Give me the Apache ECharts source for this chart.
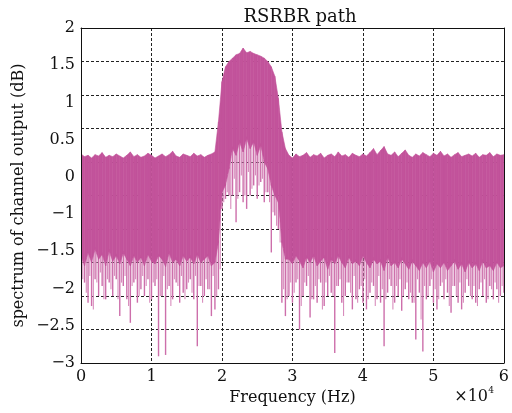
<!DOCTYPE html>
<html><head><meta charset="utf-8">
<script src="https://cdn.jsdelivr.net/npm/echarts@6/dist/echarts.min.js"></script>
<style>html,body{margin:0;padding:0;background:#fff}#c{width:512px;height:413px}</style>
</head><body><div id="c"></div>
<script>
// frequency sample points (x 10^4 Hz)
const freq = [
0.00,0.05,0.10,0.15,0.20,0.25,0.30,0.35,0.40,0.45,
0.50,0.55,0.60,0.65,0.70,0.75,0.80,0.85,0.90,0.95,
1.00,1.05,1.10,1.15,1.20,1.25,1.30,1.35,1.40,1.45,
1.50,1.55,1.60,1.65,1.70,1.75,1.80,1.85,1.90,1.95,
2.00,2.05,2.10,2.15,2.20,2.25,2.30,2.35,2.40,2.45,
2.50,2.55,2.60,2.65,2.70,2.75,2.80,2.85,2.90,2.95,
3.00,3.05,3.10,3.15,3.20,3.25,3.30,3.35,3.40,3.45,
3.50,3.55,3.60,3.65,3.70,3.75,3.80,3.85,3.90,3.95,
4.00,4.05,4.10,4.15,4.20,4.25,4.30,4.35,4.40,4.45,
4.50,4.55,4.60,4.65,4.70,4.75,4.80,4.85,4.90,4.95,
5.00,5.05,5.10,5.15,5.20,5.25,5.30,5.35,5.40,5.45,
5.50,5.55,5.60,5.65,5.70,5.75,5.80,5.85,5.90,5.95,
6.00];
// upper envelope of the spectrum (dB)
const topEnv = [
0.12,0.08,0.10,0.06,0.11,0.09,0.14,0.07,0.10,0.08,
0.12,0.09,0.06,0.10,0.15,0.08,0.11,0.07,0.09,0.13,
0.10,0.06,0.09,0.12,0.08,0.11,0.16,0.09,0.07,0.12,
0.10,0.08,0.13,0.09,0.11,0.07,0.10,0.12,0.15,0.60,
1.20,1.42,1.50,1.55,1.60,1.62,1.70,1.63,1.65,1.62,
1.60,1.58,1.55,1.50,1.42,1.28,0.95,0.45,0.20,0.10,
0.06,0.12,0.08,0.10,0.14,0.07,0.11,0.09,0.13,0.06,
0.10,0.12,0.08,0.15,0.09,0.11,0.07,0.13,0.10,0.08,
0.12,0.09,0.14,0.20,0.11,0.17,0.23,0.12,0.10,0.15,
0.08,0.13,0.18,0.10,0.07,0.12,0.09,0.14,0.11,0.08,
0.13,0.10,0.16,0.09,0.12,0.07,0.11,0.14,0.08,0.10,
0.12,0.09,0.13,0.07,0.11,0.10,0.14,0.08,0.12,0.10,
0.11];
// lower edge of the dense (solid) part (dB)
const coreLow = [
-1.40,-1.55,-1.35,-1.50,-1.30,-1.45,-1.38,-1.55,-1.33,-1.48,
-1.40,-1.52,-1.36,-1.45,-1.55,-1.40,-1.50,-1.42,-1.55,-1.38,
-1.48,-1.52,-1.40,-1.45,-1.56,-1.36,-1.50,-1.45,-1.55,-1.40,
-1.48,-1.42,-1.52,-1.38,-1.50,-1.45,-1.40,-1.55,-1.50,-1.20,
-0.45,-0.35,-0.10,0.20,0.10,0.30,0.15,0.35,0.20,0.30,
0.10,0.25,0.00,-0.10,-0.35,-0.50,-0.60,-1.20,-1.45,-1.45,
-1.52,-1.40,-1.48,-1.58,-1.42,-1.50,-1.40,-1.55,-1.48,-1.42,
-1.60,-1.45,-1.52,-1.40,-1.50,-1.58,-1.42,-1.52,-1.48,-1.55,
-1.40,-1.50,-1.58,-1.45,-1.52,-1.48,-1.62,-1.42,-1.55,-1.50,
-1.58,-1.45,-1.52,-1.60,-1.48,-1.55,-1.62,-1.50,-1.58,-1.48,
-1.64,-1.52,-1.58,-1.50,-1.62,-1.55,-1.48,-1.60,-1.52,-1.64,
-1.50,-1.58,-1.52,-1.62,-1.48,-1.58,-1.55,-1.62,-1.50,-1.58,
-1.55];
// deepest downward spike at each sample point (dB)
const spikeLow = [
-2.05,-1.80,-2.10,-2.15,-1.75,-2.00,-1.85,-2.05,-1.80,-2.00,
-1.75,-2.30,-1.85,-2.05,-2.40,-1.80,-2.10,-1.90,-2.00,-1.75,
-2.05,-1.85,-2.90,-2.00,-2.88,-1.85,-2.05,-1.80,-2.10,-1.95,
-1.90,-1.75,-2.05,-2.75,-1.85,-2.00,-1.90,-2.30,-2.20,-1.90,
-0.70,-0.55,-0.50,-0.50,-0.90,-0.45,-0.60,-0.70,-0.50,-0.35,
-0.55,-0.30,-0.60,-0.45,-1.35,-0.80,-1.00,-2.10,-2.30,-2.00,
-2.10,-1.80,-2.50,-2.00,-1.85,-2.32,-2.05,-2.10,-1.80,-2.15,
-2.00,-1.95,-2.85,-1.85,-2.10,-2.00,-1.80,-2.20,-2.05,-1.90,
-2.10,-2.20,-1.95,-1.85,-2.05,-2.10,-2.75,-1.95,-1.85,-2.10,
-2.00,-2.22,-1.90,-2.05,-2.10,-2.65,-1.95,-2.83,-2.05,-1.85,
-2.10,-2.20,-1.85,-2.05,-1.95,-2.25,-1.85,-2.10,-2.20,-1.95,
-1.85,-2.05,-2.10,-1.90,-2.00,-2.10,-1.85,-2.05,-1.90,-2.00,
-1.95];
// shorter spikes half-way between sample points (dB)
const spikeMid = [
-1.75,-1.95,-1.70,-2.20,-1.80,-1.65,-2.05,-1.75,-1.90,-1.70,
-2.05,-1.80,-1.70,-2.15,-1.85,-1.75,-2.00,-1.70,-1.85,-2.10,
-1.80,-1.75,-2.00,-1.70,-1.90,-2.15,-1.75,-1.85,-1.70,-2.05,
-1.80,-1.95,-1.70,-1.85,-2.10,-1.75,-1.90,-1.70,-2.00,-1.60,
-0.60,-0.45,-0.70,-0.25,-0.55,-0.20,-0.50,-0.15,-0.40,-0.20,
-0.35,-0.25,-0.45,-0.60,-0.75,-0.95,-1.20,-1.90,-2.05,-1.80,
-1.95,-1.75,-2.15,-1.80,-1.70,-2.05,-1.85,-1.75,-2.20,-1.80,
-1.70,-2.00,-1.85,-1.75,-2.30,-1.80,-1.95,-1.70,-2.10,-1.85,
-1.75,-2.05,-1.80,-2.15,-1.70,-1.90,-2.05,-1.75,-2.20,-1.85,
-1.75,-2.00,-1.80,-1.95,-2.10,-1.75,-2.35,-1.85,-2.00,-1.75,
-1.90,-2.05,-1.80,-1.75,-2.15,-1.85,-2.00,-1.80,-2.10,-1.75,
-2.00,-1.85,-2.15,-1.80,-1.75,-2.05,-1.90,-1.80,-2.10,-1.85];
const xTickLabels = ['0','1','2','3','4','5','6'];
const yTickLabels = ['\u22123','\u22122.5','\u22122','\u22121.5','\u22121','0','0.5','1','1.5','2'];

const FONT = 'DejaVu Serif';
const MAG = '#c2539b';
const SPIKE = '#cd6fab';
const SPIKE2 = '#d88dbd';
const chart = echarts.init(document.getElementById('c'));

// band segments: [x, top, low, xNext, topNext, lowNext]
const bandData = [];
const midData = [];
for (let i = 0; i < freq.length - 1; i++) {
  bandData.push([freq[i], topEnv[i], coreLow[i], freq[i+1], topEnv[i+1], coreLow[i+1]]);
  midData.push([(freq[i] + freq[i+1]) / 2, (coreLow[i] + coreLow[i+1]) / 2, spikeMid[i]]);
}
const spikeData = freq.map((f,i)=>[f, coreLow[i], spikeLow[i]]);

function renderBand(params, api){
  const p1 = api.coord([api.value(0), api.value(1)]);
  const p2 = api.coord([api.value(3), api.value(4)]);
  const p3 = api.coord([api.value(3), api.value(5)]);
  const p4 = api.coord([api.value(0), api.value(2)]);
  return {type:'polygon', shape:{points:[p1,p2,p3,p4]},
          style:{fill:MAG, stroke:MAG, lineWidth:0.6}};
}
function spikeRenderer(color, width){
  return function(params, api){
    const x = api.value(0), lo = api.value(1), sp = api.value(2);
    const c1 = api.coord([x, lo]);
    const c2 = api.coord([x, sp]);
    return {type:'line', shape:{x1:c1[0], y1:c1[1]-2, x2:c2[0], y2:c2[1]},
            style:{stroke:color, lineWidth:width}};
  };
}

const gridLine = {show:true, lineStyle:{color:'#222', width:1, type:[3,2]}};
const txt = {color:'#111', fontFamily:FONT, fontSize:16};
const frameLine = {show:true, onZero:false, lineStyle:{color:'#111', width:1}};

chart.setOption({
  animation:false,
  backgroundColor:'#fff',
  title:{text:'RSRBR path', left:295, top:3, textAlign:'center',
    textStyle:{color:'#111', fontFamily:FONT, fontSize:18, fontWeight:'normal'}},
  grid:{left:81, right:4, top:28, bottom:50},
  xAxis:[
    {type:'value', min:0, max:6, interval:1, position:'bottom', z:10,
     axisLine:frameLine, axisTick:{show:false},
     axisLabel:Object.assign({margin:6, formatter:v=>xTickLabels[Math.round(v)]}, txt),
     splitLine:{show:false},
     name:'Frequency (Hz)', nameLocation:'middle', nameGap:26, nameTextStyle:txt},
    {type:'value', min:0, max:6, interval:1, position:'top', z:10,
     axisLine:frameLine, axisTick:{show:false}, axisLabel:{show:false}, splitLine:{show:false}},
    {type:'value', min:0, max:6, interval:1, position:'bottom',
     axisLine:{show:false, onZero:false}, axisTick:{show:false}, axisLabel:{show:false}, splitLine:gridLine}
  ],
  yAxis:[
    {type:'value', min:-3, max:2, interval:0.5, position:'left', z:10,
     axisLine:frameLine, axisTick:{show:false}, axisLabel:{show:false}, splitLine:{show:false},
     name:'spectrum of channel output (dB)', nameLocation:'middle', nameGap:54, nameRotate:90, nameTextStyle:txt},
    {type:'value', min:-3, max:2, interval:0.5, position:'right', z:10,
     axisLine:frameLine, axisTick:{show:false}, axisLabel:{show:false}, splitLine:{show:false}},
    {type:'value', min:-3, max:2, interval:0.5, position:'left',
     axisLine:{show:false, onZero:false}, axisTick:{show:false}, axisLabel:{show:false}, splitLine:gridLine},
    {type:'category', data:yTickLabels, boundaryGap:false, position:'left',
     axisLine:{show:false}, axisTick:{show:false}, splitLine:{show:false},
     axisLabel:Object.assign({margin:6, interval:0}, txt)}
  ],
  graphic:[
    {type:'text', right:24, top:389, style:{text:'\u00d710', fill:'#111', font:'16px "DejaVu Serif"'}},
    {type:'text', right:18, top:386, style:{text:'4', fill:'#111', font:'9px "DejaVu Serif"'}}
  ],
  series:[
    {type:'custom', xAxisIndex:0, yAxisIndex:0, clip:true, silent:true,
     renderItem:spikeRenderer(SPIKE2, 1.1), data:midData, encode:{x:0, y:[1,2]}},
    {type:'custom', xAxisIndex:0, yAxisIndex:0, clip:true, silent:true,
     renderItem:spikeRenderer(SPIKE, 1.4), data:spikeData, encode:{x:0, y:[1,2]}},
    {type:'custom', xAxisIndex:0, yAxisIndex:0, clip:true, silent:true,
     renderItem:renderBand, data:bandData, encode:{x:[0,3], y:[1,2,4,5]}}
  ]
});
</script></body></html>
